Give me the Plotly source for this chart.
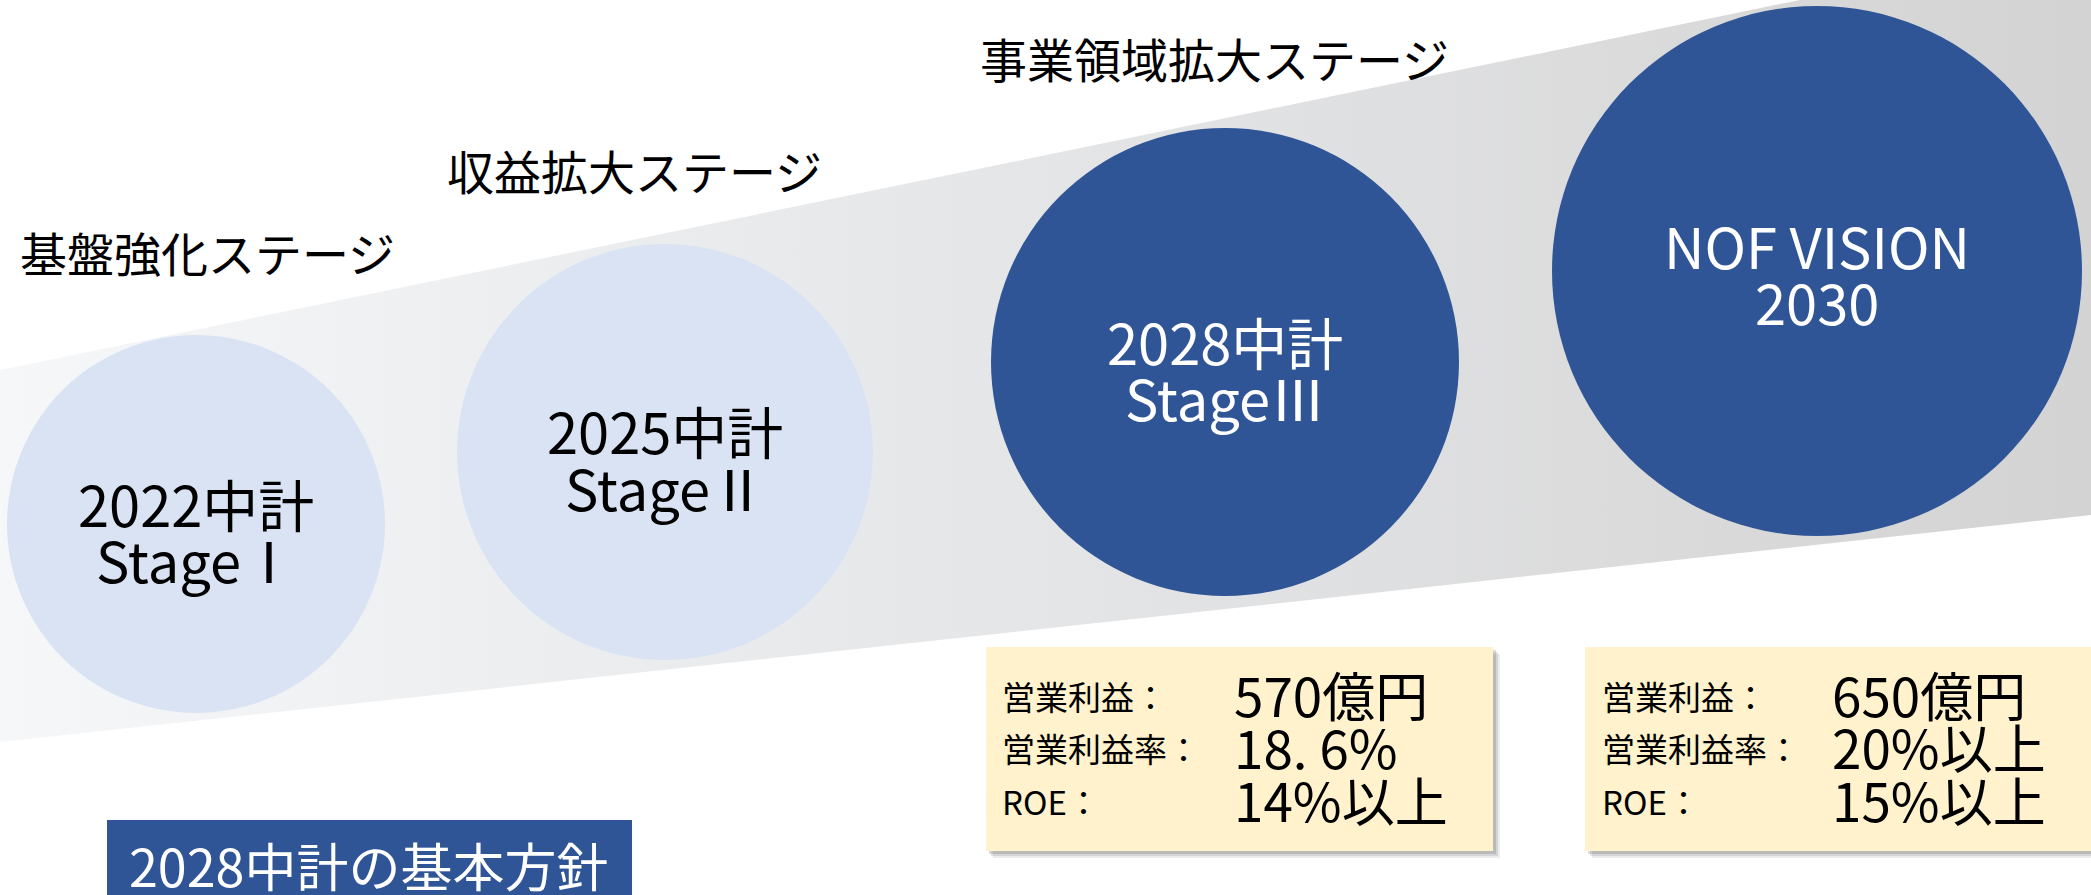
import plotly.graph_objects as go

# stage headings and plan circles
stage_titles = ["基盤強化ステージ", "収益拡大ステージ", "事業領域拡大ステージ"]
plan_line1 = ["2022中計", "2025中計", "2028中計", "NOF VISION"]
plan_line2 = ["StageⅠ", "StageⅡ", "StageⅢ", "2030"]

# targets in the two boxes
metric_labels = ["営業利益：", "営業利益率：", "ROE："]
targets_2028 = ["570億円", "18. 6%", "14%以上"]
targets_2030 = ["650億円", "20%以上", "15%以上"]
policy_title = "2028中計の基本方針"

# layout (pixel space of the page)
W, H = 2091, 895
band_x = [0, 1800, W, W, 0]
band_y = [370, 0, 0, 515, 742]
title_pos = [(18, 251), (445, 169), (978, 57)]
circ = [(196, 524, 189), (665, 452, 208), (1225, 362, 234), (1817, 271, 265)]
circ_fill = ["#dae3f3", "#dae3f3", "#2f5597", "#2f5597"]
circ_text = ["black", "black", "white", "white"]
line_off = [(-22, 34), (-23, 34), (-22, 34), (-27, 29)]
box_x = [(986, 1493), (1585, 2091)]
box_y = (647, 851)
row_y = [696, 748, 801]
label_x = [1000, 1600]
value_x = [1232, 1830]
FONT = "Noto Sans CJK JP"

fig = go.Figure()

fig.add_trace(go.Scatter(
    x=band_x, y=band_y, mode="lines", fill="toself",
    line=dict(width=0),
    fillgradient=dict(type="horizontal",
                      colorscale=[[0, "#f6f7f9"], [0.45, "#e6e7e9"], [1, "#d3d3d3"]]),
    hoverinfo="skip", showlegend=False))

shapes = []
for (cx, cy, r), col in zip(circ, circ_fill):
    shapes.append(dict(type="circle", xref="x", yref="y",
                       x0=cx - r, x1=cx + r, y0=cy - r, y1=cy + r,
                       fillcolor=col, line=dict(width=0), layer="above"))

# boxes with a soft shadow
for x0, x1 in box_x:
    for k, op in [(7, 0.10), (5, 0.15), (3, 0.2)]:
        shapes.append(dict(type="rect", xref="x", yref="y",
                           x0=x0 + k, x1=x1 + k, y0=box_y[0] + k, y1=box_y[1] + k,
                           fillcolor="rgba(80,80,80,%s)" % op, line=dict(width=0)))
    shapes.append(dict(type="rect", xref="x", yref="y",
                       x0=x0, x1=x1, y0=box_y[0], y1=box_y[1],
                       fillcolor="#fff2cc", line=dict(width=0)))

shapes.append(dict(type="rect", xref="x", yref="y", x0=107, x1=632, y0=820, y1=900,
                   fillcolor="#2f5597", line=dict(width=0)))

ann = []
for t, (x, y) in zip(stage_titles, title_pos):
    ann.append(dict(x=x, y=y, text=t, xanchor="left", yanchor="middle",
                    font=dict(family=FONT, size=47, color="black")))

for i, (cx, cy, r) in enumerate(circ):
    for txt, off in [(plan_line1[i], line_off[i][0]), (plan_line2[i], line_off[i][1])]:
        ann.append(dict(x=cx, y=cy + off, text=txt, xanchor="center", yanchor="middle",
                        font=dict(family=FONT, size=56, color=circ_text[i])))

for vals, lx, vx in [(targets_2028, label_x[0], value_x[0]), (targets_2030, label_x[1], value_x[1])]:
    for lab, v, y in zip(metric_labels, vals, row_y):
        ann.append(dict(x=lx, y=y, text=lab, xanchor="left", yanchor="middle",
                        font=dict(family=FONT, size=33, color="black")))
        ann.append(dict(x=vx, y=y - 2, text=v, xanchor="left", yanchor="middle",
                        font=dict(family=FONT, size=53, color="black")))

ann.append(dict(x=368, y=864, text=policy_title, xanchor="center", yanchor="middle",
                font=dict(family=FONT, size=52, color="white")))

for a in ann:
    a.update(xref="x", yref="y", showarrow=False)

fig.update_layout(
    width=W, height=H,
    margin=dict(l=0, r=0, t=0, b=0),
    paper_bgcolor="white", plot_bgcolor="white",
    xaxis=dict(range=[0, W], visible=False, fixedrange=True),
    yaxis=dict(range=[H, 0], visible=False, fixedrange=True),
    shapes=shapes, annotations=ann, showlegend=False)

fig.write_html("out.html", config={"displayModeBar": False},
               post_script="document.body.style.margin='0px';document.body.style.overflow='hidden';")
